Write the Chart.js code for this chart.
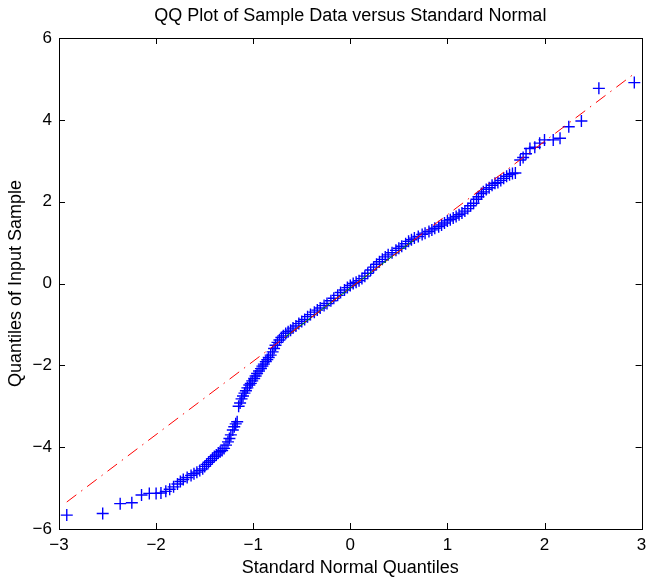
<!DOCTYPE html>
<html>
<head>
<meta charset="utf-8">
<script src="https://cdn.jsdelivr.net/npm/chart.js@4.4.0/dist/chart.umd.min.js"></script>
<style>
  html, body { margin: 0; padding: 0; background: #fff; }
  canvas { display: block; }
</style>
</head>
<body>
<canvas id="qq" width="649" height="579"></canvas>
<script>
//======== QQ PLOT DATA ===========//

// standard normal quantiles (x) and sorted sample values (y)
let sampleX = [
  -2.92, -2.55, -2.37, -2.25, -2.15, -2.07, -2.00, -1.95, -1.90, -1.86,
  -1.82, -1.78, -1.75, -1.72, -1.68, -1.64, -1.61, -1.58, -1.55, -1.52,
  -1.50, -1.48, -1.46, -1.44, -1.42, -1.40, -1.38, -1.36, -1.34, -1.32,
  -1.30, -1.28, -1.26, -1.245, -1.23, -1.21, -1.195, -1.18, -1.165, -1.15,
  -1.135, -1.12, -1.105, -1.09, -1.075, -1.06, -1.04, -1.025, -1.01, -0.99,
  -0.975, -0.96, -0.94, -0.92, -0.905, -0.89, -0.87, -0.855, -0.84, -0.82,
  -0.80, -0.785, -0.77, -0.75, -0.73, -0.71, -0.69, -0.665, -0.64, -0.615,
  -0.59, -0.56, -0.53, -0.50, -0.47, -0.44, -0.41, -0.37, -0.34, -0.31,
  -0.27, -0.24, -0.20, -0.17, -0.13, -0.10, -0.06, -0.03, 0.00, 0.03,
  0.06, 0.09, 0.12, 0.15, 0.18, 0.21, 0.24, 0.27, 0.30, 0.33,
  0.36, 0.39, 0.43, 0.47, 0.50, 0.53, 0.57, 0.60, 0.63, 0.66,
  0.70, 0.74, 0.77, 0.81, 0.84, 0.87, 0.91, 0.94, 0.97, 1.00,
  1.03, 1.06, 1.09, 1.12, 1.15, 1.18, 1.21, 1.24, 1.27, 1.30,
  1.32, 1.35, 1.37, 1.40, 1.43, 1.46, 1.49, 1.52, 1.55, 1.58,
  1.61, 1.64, 1.67, 1.70, 1.75, 1.78, 1.81, 1.85, 1.90, 1.95,
  2.00, 2.09, 2.16, 2.25, 2.38, 2.56, 2.925
];
let sampleY = [
  -5.66, -5.62, -5.38, -5.36, -5.17, -5.13, -5.13, -5.12, -5.08, -5.03,
  -4.97, -4.90, -4.84, -4.79, -4.74, -4.69, -4.65, -4.61, -4.57, -4.53,
  -4.47, -4.42, -4.37, -4.33, -4.28, -4.23, -4.19, -4.14, -4.11, -4.08,
  -4.03, -3.95, -3.87, -3.79, -3.70, -3.58, -3.50, -3.43, -3.38, -3.00,
  -2.92, -2.82, -2.75, -2.68, -2.62, -2.55, -2.48, -2.44, -2.38, -2.32,
  -2.26, -2.20, -2.14, -2.08, -2.02, -1.97, -1.91, -1.86, -1.81, -1.75,
  -1.67, -1.59, -1.51, -1.44, -1.38, -1.32, -1.28, -1.22, -1.18, -1.14,
  -1.09, -1.04, -0.98, -0.93, -0.88, -0.81, -0.76, -0.70, -0.65, -0.60,
  -0.54, -0.49, -0.42, -0.36, -0.29, -0.22, -0.16, -0.10, -0.05, 0.00,
  0.03, 0.07, 0.12, 0.18, 0.25, 0.33, 0.40, 0.47, 0.53, 0.59,
  0.65, 0.70, 0.75, 0.81, 0.86, 0.91, 0.97, 1.03, 1.07, 1.11,
  1.15, 1.20, 1.23, 1.27, 1.31, 1.35, 1.39, 1.43, 1.48, 1.53,
  1.56, 1.60, 1.64, 1.68, 1.72, 1.77, 1.83, 1.90, 1.96, 2.06,
  2.12, 2.20, 2.24, 2.30, 2.34, 2.40, 2.45, 2.47, 2.52, 2.57,
  2.62, 2.66, 2.69, 2.70, 3.02, 3.08, 3.17, 3.30, 3.33, 3.43,
  3.51, 3.51, 3.55, 3.83, 3.97, 4.77, 4.91
];

// dash-dot reference line over the whole range, solid part between the quartiles
let refLineX = [-2.92, 2.92];
let refLineY = [-5.34, 5.12];
let quartLineX = [-0.67, 0.67];
let quartLineY = [-1.31, 1.09];

let xTicks = [-3, -2, -1, 0, 1, 2, 3];
let yTicks = [-6, -4, -2, 0, 2, 4, 6];

function pts(xs, ys) {
    return xs.map(function (x, i) { return { x: x, y: ys[i] }; });
}

function minusLabel(v) {
    return v < 0 ? '\u2212' + Math.abs(v) : String(v);
}

// matlab style box with inward ticks on all four sides
let boxTicks = {
    id: 'boxTicks',
    afterDatasetsDraw: function (chart) {
        let ctx = chart.ctx;
        let a = chart.chartArea;
        let sx = chart.scales.x;
        let sy = chart.scales.y;
        let len = 6;
        ctx.save();
        ctx.strokeStyle = '#000';
        ctx.lineWidth = 1;
        ctx.beginPath();
        xTicks.forEach(function (t) {
            let px = Math.round(sx.getPixelForValue(t)) + 0.5;
            ctx.moveTo(px, a.bottom); ctx.lineTo(px, a.bottom - len);
            ctx.moveTo(px, a.top); ctx.lineTo(px, a.top + len);
        });
        yTicks.forEach(function (t) {
            let py = Math.round(sy.getPixelForValue(t)) + 0.5;
            ctx.moveTo(a.left, py); ctx.lineTo(a.left + len, py);
            ctx.moveTo(a.right, py); ctx.lineTo(a.right - len, py);
        });
        ctx.stroke();
        ctx.strokeRect(Math.round(a.left) + 0.5, Math.round(a.top) + 0.5,
            Math.round(a.right - a.left), Math.round(a.bottom - a.top));
        ctx.restore();
    }
};

let font = 'Liberation Sans, Arial, Helvetica, sans-serif';

let qqChart = new Chart(document.getElementById('qq').getContext('2d'), {
    type: 'scatter',
    data: {
        datasets: [{
            label: 'reference',
            data: pts(refLineX, refLineY),
            showLine: true,
            borderColor: '#ff0000',
            borderWidth: 1,
            borderDash: [12, 6, 1.5, 6],
            pointRadius: 0
        }, {
            label: 'quartiles',
            data: pts(quartLineX, quartLineY),
            showLine: true,
            borderColor: '#009000',
            borderWidth: 1,
            pointRadius: 0
        }, {
            label: 'sample',
            data: pts(sampleX, sampleY),
            pointStyle: 'cross',
            pointRadius: 6,
            pointBorderWidth: 1.4,
            borderColor: '#0000ff',
            backgroundColor: '#0000ff'
        }]
    },
    options: {
        responsive: false,
        animation: false,
        layout: { padding: { left: 0, right: 5, top: 0, bottom: 0 } },
        plugins: {
            legend: { display: false },
            tooltip: { enabled: false },
            title: {
                display: true,
                fullSize: false,
                text: 'QQ Plot of Sample Data versus Standard Normal',
                color: '#000',
                font: { family: font, size: 18, weight: 'normal' },
                padding: { top: 5, bottom: 11.4 }
            }
        },
        scales: {
            x: {
                type: 'linear',
                min: -3,
                max: 3,
                grid: { display: false, drawTicks: false },
                border: { display: false },
                ticks: {
                    stepSize: 1,
                    padding: 6,
                    color: '#000',
                    font: { family: font, size: 17 },
                    callback: minusLabel
                },
                title: {
                    display: true,
                    text: 'Standard Normal Quantiles',
                    color: '#000',
                    font: { family: font, size: 18 },
                    padding: { top: 0, bottom: 0 }
                },
                afterFit: function (scale) {
                    scale.height = 50;
                    scale.paddingLeft = 0;
                    scale.paddingRight = 0;
                }
            },
            y: {
                type: 'linear',
                min: -6,
                max: 6,
                grid: { display: false, drawTicks: false },
                border: { display: false },
                ticks: {
                    stepSize: 2,
                    padding: 7,
                    color: '#000',
                    font: { family: font, size: 17 },
                    callback: minusLabel
                },
                title: {
                    display: true,
                    text: 'Quantiles of Input Sample',
                    color: '#000',
                    font: { family: font, size: 18 },
                    padding: { top: 5, bottom: 0 }
                },
                afterFit: function (scale) {
                    scale.width = 59;
                    scale.paddingTop = 0;
                    scale.paddingBottom = 0;
                }
            }
        }
    },
    plugins: [boxTicks]
});
</script>
</body>
</html>
